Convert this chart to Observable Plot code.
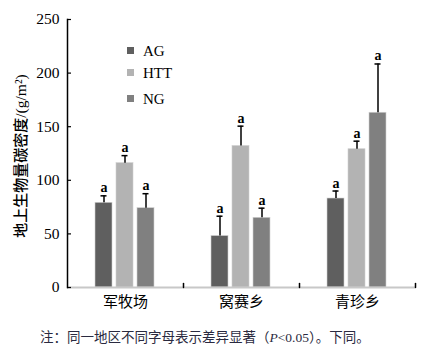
<!DOCTYPE html>
<html><head><meta charset="utf-8">
<script src="https://cdn.jsdelivr.net/npm/d3@7"></script>
<script src="https://cdn.jsdelivr.net/npm/@observablehq/plot@0.6"></script>
<style>
body{margin:0;background:#fff;}
#wrap{position:relative;width:432px;height:349px;overflow:hidden;background:#fff;}
#chart svg{display:block;}
#chart g[aria-label="y-axis tick label"]{font-family:"Liberation Serif",serif !important;font-size:15.5px;}
.ylab{position:absolute;left:19px;top:156px;transform:translate(-50%,-50%) rotate(-90deg);white-space:nowrap;font-family:"Noto Sans CJK SC",sans-serif;font-weight:500;font-size:15px;color:#000;}
.ylab .u{font-family:"Liberation Serif",serif;font-weight:normal;font-size:15.5px;}
.leg{position:absolute;left:127px;font-family:"Liberation Serif",serif;font-size:15px;color:#000;line-height:1;}
.leg i{display:inline-block;width:7px;height:7px;margin-right:9px;vertical-align:middle;position:relative;top:-2px;}
.cap{position:absolute;left:40px;top:330px;font-family:"Noto Sans CJK SC",sans-serif;font-size:13.5px;color:#2a2a40;white-space:nowrap;line-height:1;}
.cap .s{font-family:"Liberation Serif",serif;}
</style></head><body>
<div id="wrap"><div id="chart"></div></div>
<script>
const groups = ["军牧场", "窝赛乡", "青珍乡"];
const series = ["AG", "HTT", "NG"];
const agMean = [79, 48, 83];
const agErr = [6.5, 18.5, 7];
const httMean = [116, 132, 129];
const httErr = [7, 18.5, 7.5];
const ngMean = [74, 65, 163];
const ngErr = [13.5, 9, 45.5];
const agLetter = ["a", "a", "a"];
const httLetter = ["a", "a", "a"];
const ngLetter = ["a", "a", "a"];
const yTicks = [0, 50, 100, 150, 200, 250];
const colors = ["#5f5f5f", "#b3b3b3", "#808080"];

const means = [agMean, httMean, ngMean];
const errs = [agErr, httErr, ngErr];
const letters = [agLetter, httLetter, ngLetter];
const data = [];
groups.forEach((g, i) => series.forEach((s, j) => data.push({g, s, v: means[j][i], e: errs[j][i], lab: letters[j][i]})));
const errTop = d => d.v + d.e;

const serif = "Liberation Serif, Times New Roman, serif";
const cjk = "Noto Sans CJK SC, sans-serif";
const upLine = {draw(ctx, l) { ctx.moveTo(0, 0); ctx.lineTo(0, -l); }};

const plot = Plot.plot({
  width: 432, height: 318,
  marginLeft: 66, marginRight: 16, marginTop: 19, marginBottom: 31,
  style: {background: "transparent", color: "#000", fontFamily: serif},
  fx: {domain: groups, padding: 0, label: null, axis: null},
  x: {domain: series, paddingInner: 0.18, paddingOuter: 1.24, axis: null},
  y: {domain: [0, 250], axis: null},
  color: {domain: series, range: colors},
  marks: [
    Plot.barY(data, {fx: "g", x: "s", y: "v", fill: "s", stroke: "#d0d0d0", strokeWidth: 0.6}),
    Plot.ruleX(data, {fx: "g", x: "s", y1: "v", y2: errTop, stroke: "#000", strokeWidth: 1.5}),
    Plot.tickY(data, {fx: "g", x: "s", y: errTop, stroke: "#000", strokeWidth: 1.5, insetLeft: 5.5, insetRight: 5.5}),
    Plot.text(data, {fx: "g", x: "s", y: errTop, text: "lab", dy: -8, fontFamily: serif, fontWeight: "bold", fontSize: 14, fill: "#000"}),
    Plot.ruleY([0], {stroke: "#c8c8c8", strokeWidth: 2}),
    Plot.vector(groups.map(g => ({g})), {fx: "g", frameAnchor: "bottom-right", length: 4, rotate: 0, anchor: "start", shape: upLine, stroke: "#000", strokeWidth: 1.5}),
    Plot.frame({anchor: "left", facet: "super", stroke: "#000", strokeWidth: 1.5}),
    Plot.axisY({ticks: yTicks, tickSize: -4, tickPadding: 12, tickFormat: d => d, label: null, fontSize: 15.5, fontFamily: serif, stroke: "#000", strokeWidth: 1.2}),
    Plot.axisFx({anchor: "bottom", tickSize: 0, tickPadding: 9, label: null, fontSize: 15, fontFamily: cjk})
  ]
});
document.getElementById("chart").appendChild(plot);

const wrap = document.getElementById("wrap");
const yl = document.createElement("div");
yl.className = "ylab";
yl.innerHTML = '地上生物量碳密度<span class="u">/(g/m²)</span>';
wrap.appendChild(yl);

const legTops = [44, 66, 92];
series.forEach((s, j) => {
  const d = document.createElement("div");
  d.className = "leg";
  d.style.top = legTops[j] + "px";
  d.innerHTML = `<i style="background:${colors[j]}"></i>${s}`;
  wrap.appendChild(d);
});

const cap = document.createElement("div");
cap.className = "cap";
cap.innerHTML = '注：同一地区不同字母表示差异显著（<span class="s"><i>P</i>&lt;0.05</span>）。下同。';
wrap.appendChild(cap);
</script>
</body></html>
